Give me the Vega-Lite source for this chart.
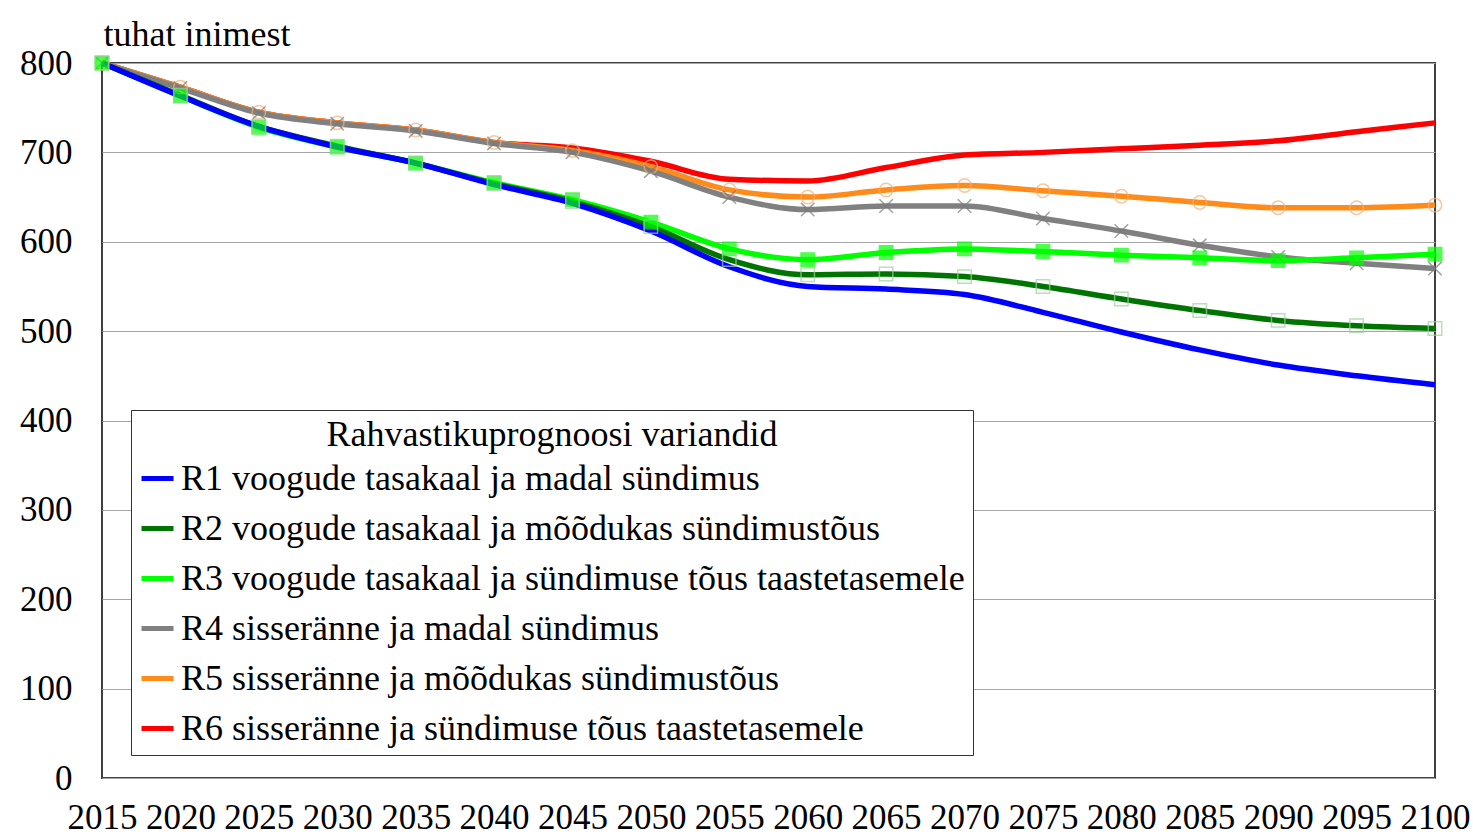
{
  "$schema": "https://vega.github.io/schema/vega-lite/v6.json",
  "width": 1333,
  "height": 715,
  "autosize": {"type": "none"},
  "padding": {"left": 102, "top": 63, "right": 38, "bottom": 60},
  "background": "white",
  "config": {
    "font": "Liberation Serif",
    "view": {"stroke": "#404040", "strokeWidth": 2},
    "axis": {"labelFont": "Liberation Serif", "titleFont": "Liberation Serif", "labelColor": "black", "titleColor": "black", "titleFontWeight": "normal"}
  },
  "data": {
    "values": [
      {"variant": "R6", "year": 2015, "value": 800}, {"variant": "R6", "year": 2020, "value": 773}, {"variant": "R6", "year": 2025, "value": 745}, {"variant": "R6", "year": 2030, "value": 733}, {"variant": "R6", "year": 2035, "value": 725}, {"variant": "R6", "year": 2040, "value": 711}, {"variant": "R6", "year": 2045, "value": 705}, {"variant": "R6", "year": 2050, "value": 690}, {"variant": "R6", "year": 2055, "value": 670}, {"variant": "R6", "year": 2060, "value": 668}, {"variant": "R6", "year": 2065, "value": 683}, {"variant": "R6", "year": 2070, "value": 697}, {"variant": "R6", "year": 2075, "value": 700}, {"variant": "R6", "year": 2080, "value": 704}, {"variant": "R6", "year": 2085, "value": 708}, {"variant": "R6", "year": 2090, "value": 713}, {"variant": "R6", "year": 2095, "value": 723}, {"variant": "R6", "year": 2100, "value": 733},
      {"variant": "R5", "year": 2015, "value": 800}, {"variant": "R5", "year": 2020, "value": 773}, {"variant": "R5", "year": 2025, "value": 745}, {"variant": "R5", "year": 2030, "value": 733}, {"variant": "R5", "year": 2035, "value": 725}, {"variant": "R5", "year": 2040, "value": 711}, {"variant": "R5", "year": 2045, "value": 702}, {"variant": "R5", "year": 2050, "value": 684}, {"variant": "R5", "year": 2055, "value": 658}, {"variant": "R5", "year": 2060, "value": 650}, {"variant": "R5", "year": 2065, "value": 658}, {"variant": "R5", "year": 2070, "value": 663}, {"variant": "R5", "year": 2075, "value": 657}, {"variant": "R5", "year": 2080, "value": 651}, {"variant": "R5", "year": 2085, "value": 644}, {"variant": "R5", "year": 2090, "value": 638}, {"variant": "R5", "year": 2095, "value": 638}, {"variant": "R5", "year": 2100, "value": 641},
      {"variant": "R4", "year": 2015, "value": 800}, {"variant": "R4", "year": 2020, "value": 772}, {"variant": "R4", "year": 2025, "value": 744}, {"variant": "R4", "year": 2030, "value": 732}, {"variant": "R4", "year": 2035, "value": 724}, {"variant": "R4", "year": 2040, "value": 710}, {"variant": "R4", "year": 2045, "value": 700}, {"variant": "R4", "year": 2050, "value": 679}, {"variant": "R4", "year": 2055, "value": 650}, {"variant": "R4", "year": 2060, "value": 636}, {"variant": "R4", "year": 2065, "value": 640}, {"variant": "R4", "year": 2070, "value": 640}, {"variant": "R4", "year": 2075, "value": 626}, {"variant": "R4", "year": 2080, "value": 612}, {"variant": "R4", "year": 2085, "value": 596}, {"variant": "R4", "year": 2090, "value": 583}, {"variant": "R4", "year": 2095, "value": 576}, {"variant": "R4", "year": 2100, "value": 570},
      {"variant": "R3", "year": 2015, "value": 800}, {"variant": "R3", "year": 2020, "value": 763}, {"variant": "R3", "year": 2025, "value": 728}, {"variant": "R3", "year": 2030, "value": 706}, {"variant": "R3", "year": 2035, "value": 688}, {"variant": "R3", "year": 2040, "value": 666}, {"variant": "R3", "year": 2045, "value": 647}, {"variant": "R3", "year": 2050, "value": 622}, {"variant": "R3", "year": 2055, "value": 592}, {"variant": "R3", "year": 2060, "value": 580}, {"variant": "R3", "year": 2065, "value": 588}, {"variant": "R3", "year": 2070, "value": 592}, {"variant": "R3", "year": 2075, "value": 589}, {"variant": "R3", "year": 2080, "value": 585}, {"variant": "R3", "year": 2085, "value": 582}, {"variant": "R3", "year": 2090, "value": 579}, {"variant": "R3", "year": 2095, "value": 582}, {"variant": "R3", "year": 2100, "value": 586},
      {"variant": "R2", "year": 2015, "value": 800}, {"variant": "R2", "year": 2020, "value": 764}, {"variant": "R2", "year": 2025, "value": 729}, {"variant": "R2", "year": 2030, "value": 707}, {"variant": "R2", "year": 2035, "value": 688}, {"variant": "R2", "year": 2040, "value": 665}, {"variant": "R2", "year": 2045, "value": 645}, {"variant": "R2", "year": 2050, "value": 617}, {"variant": "R2", "year": 2055, "value": 580}, {"variant": "R2", "year": 2060, "value": 563}, {"variant": "R2", "year": 2065, "value": 564}, {"variant": "R2", "year": 2070, "value": 561}, {"variant": "R2", "year": 2075, "value": 550}, {"variant": "R2", "year": 2080, "value": 536}, {"variant": "R2", "year": 2085, "value": 523}, {"variant": "R2", "year": 2090, "value": 512}, {"variant": "R2", "year": 2095, "value": 506}, {"variant": "R2", "year": 2100, "value": 503},
      {"variant": "R1", "year": 2015, "value": 800}, {"variant": "R1", "year": 2020, "value": 763}, {"variant": "R1", "year": 2025, "value": 729}, {"variant": "R1", "year": 2030, "value": 706}, {"variant": "R1", "year": 2035, "value": 688}, {"variant": "R1", "year": 2040, "value": 664}, {"variant": "R1", "year": 2045, "value": 643}, {"variant": "R1", "year": 2050, "value": 612}, {"variant": "R1", "year": 2055, "value": 572}, {"variant": "R1", "year": 2060, "value": 550}, {"variant": "R1", "year": 2065, "value": 547}, {"variant": "R1", "year": 2070, "value": 541}, {"variant": "R1", "year": 2075, "value": 521}, {"variant": "R1", "year": 2080, "value": 499}, {"variant": "R1", "year": 2085, "value": 479}, {"variant": "R1", "year": 2090, "value": 462}, {"variant": "R1", "year": 2095, "value": 450}, {"variant": "R1", "year": 2100, "value": 440}
    ]
  },
  "encoding": {
    "x": {
      "field": "year", "type": "quantitative",
      "scale": {"domain": [2015, 2100], "nice": false, "zero": false},
      "axis": {"values": [2015, 2020, 2025, 2030, 2035, 2040, 2045, 2050, 2055, 2060, 2065, 2070, 2075, 2080, 2085, 2090, 2095, 2100], "format": "d", "title": null, "grid": false, "ticks": false, "domain": false, "labelFont": "Liberation Serif", "labelFontSize": 35, "labelPadding": 50, "labelBaseline": "alphabetic", "labelOverlap": false, "labelBound": false, "labelFlush": false}
    },
    "y": {
      "field": "value", "type": "quantitative",
      "scale": {"domain": [0, 800], "nice": false},
      "axis": {"values": [0, 100, 200, 300, 400, 500, 600, 700, 800], "title": "tuhat inimest", "titleFont": "Liberation Serif", "titleAngle": 0, "titleAlign": "left", "titleBaseline": "alphabetic", "titleX": 1, "titleY": -18, "titleFontSize": 36, "grid": true, "gridColor": "#a6a6a6", "gridWidth": 1.2, "ticks": false, "domain": false, "labelFont": "Liberation Serif", "labelFontSize": 35, "labelPadding": 30, "labelBaseline": "middle"}
    }
  },
  "layer": [
    {
      "mark": {"type": "line", "strokeWidth": 5.5, "interpolate": "monotone"},
      "encoding": {
        "color": {
          "field": "variant", "type": "nominal",
          "scale": {"domain": ["R1", "R2", "R3", "R4", "R5", "R6"], "range": ["#0000ff", "#007400", "#00ff00", "#808080", "#ff8c1a", "#ff0000"]},
          "legend": {
            "orient": "none", "legendX": 29, "legendY": 347, "direction": "vertical",
            "title": "Rahvastikuprognoosi variandid",
            "titleFont": "Liberation Serif", "titleFontSize": 36, "titleFontWeight": "normal", "titleColor": "black", "titleAnchor": "middle", "titlePadding": 6, "titleLimit": 1200,
            "labelFont": "Liberation Serif", "labelFontSize": 36, "labelColor": "black", "labelLimit": 1200, "labelOffset": 5,
            "labelExpr": "{'R1':'R1  voogude tasakaal ja madal sündimus','R2':'R2 voogude tasakaal ja mõõdukas sündimustõus','R3':'R3 voogude tasakaal ja sündimuse tõus taastetasemele','R4':'R4 sisseränne ja madal sündimus','R5':'R5 sisseränne ja mõõdukas sündimustõus','R6':'R6 sisseränne ja sündimuse tõus taastetasemele'}[datum.label]",
            "symbolType": "stroke", "symbolSize": 1024, "symbolStrokeWidth": 5,
            "fillColor": "white", "strokeColor": "#333333", "padding": 8, "rowPadding": 13
          }
        },
        "order": {"field": "variant", "sort": "descending"}
      }
    },
    {
      "transform": [{"filter": "datum.variant == 'R2' || datum.variant == 'R3' || datum.variant == 'R4' || datum.variant == 'R5'"}],
      "mark": {"type": "point", "size": 180, "strokeWidth": 1.5},
      "encoding": {
        "shape": {"field": "variant", "type": "nominal", "legend": null,
          "scale": {"domain": ["R2", "R3", "R4", "R5"], "range": ["square", "square", "M-1,-1L1,1M-1,1L1,-1", "circle"]}},
        "stroke": {"field": "variant", "type": "nominal", "legend": null,
          "scale": {"domain": ["R2", "R3", "R4", "R5"], "range": ["#9fcf9f", "#00ff00", "#7a7a7a", "#f4b078"]}},
        "fill": {"field": "variant", "type": "nominal", "legend": null,
          "scale": {"domain": ["R2", "R3", "R4", "R5"], "range": ["transparent", "#00ff00", "transparent", "transparent"]}},
        "fillOpacity": {"value": 1}
      }
    }
  ]
}
